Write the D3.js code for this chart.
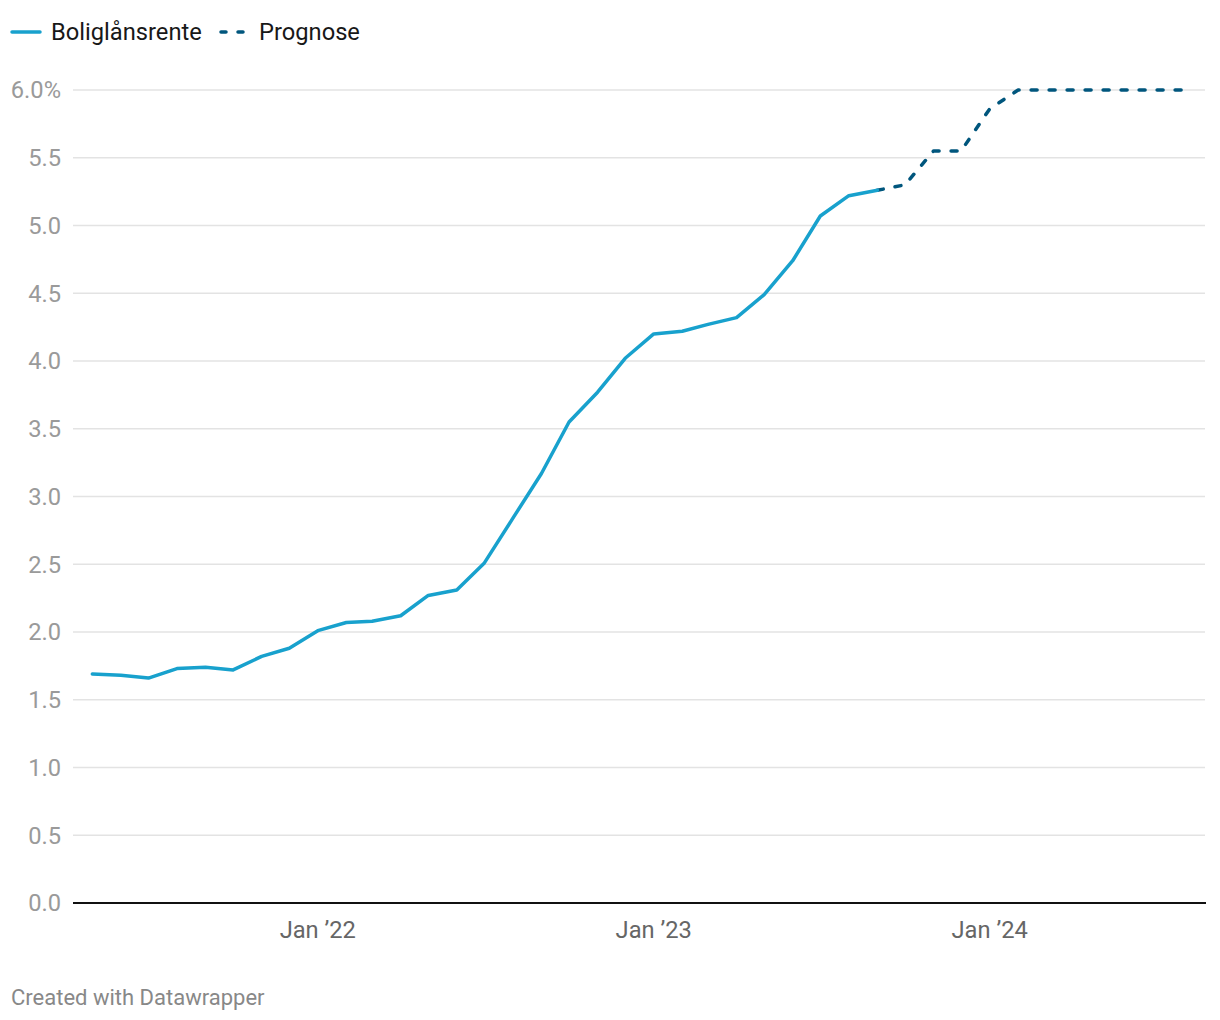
<!DOCTYPE html>
<html><head><meta charset="utf-8">
<script src="https://cdn.jsdelivr.net/npm/d3@7"></script>
<style>
body{margin:0;background:#fff;font-family:Roboto,"Noto Sans",sans-serif;}
</style></head>
<body><svg id="c" width="1220" height="1020"></svg>
<script>
const months = ["2021-05","2021-06","2021-07","2021-08","2021-09","2021-10","2021-11","2021-12",
"2022-01","2022-02","2022-03","2022-04","2022-05","2022-06","2022-07","2022-08","2022-09","2022-10","2022-11","2022-12",
"2023-01","2023-02","2023-03","2023-04","2023-05","2023-06","2023-07","2023-08","2023-09"];
const rente = [1.69,1.68,1.66,1.73,1.74,1.72,1.82,1.88,
2.01,2.07,2.08,2.12,2.27,2.31,2.51,2.84,3.17,3.55,3.77,4.02,
4.20,4.22,4.27,4.32,4.49,4.74,5.07,5.22,5.26];
const progMonths = ["2023-09","2023-10","2023-11","2023-12","2024-01","2024-02","2024-03","2024-04","2024-05","2024-06","2024-07","2024-08"];
const prognose = [5.26,5.30,5.55,5.55,5.86,6.00,6.00,6.00,6.00,6.00,6.00,6.00];
const yTicks = [0,0.5,1,1.5,2,2.5,3,3.5,4,4.5,5,5.5,6];
const xTicks = ["2022-01","2023-01","2024-01"];
const xTickLabels = ["Jan \u201922","Jan \u201923","Jan \u201924"];
const seriesNames = ["Boliglånsrente","Prognose"];

const parse = d3.timeParse("%Y-%m");
const svg = d3.select("#c");
const x = d3.scaleTime()
  .domain([new Date(2021,3,10), new Date(2024,7,22)])
  .range([73,1205]);
const y = d3.scaleLinear().domain([0,6]).range([903,90]);
const FS = 23.7;

const g = svg.append("g");
g.selectAll("line.grid").data(yTicks.filter(d=>d>0)).join("line")
  .attr("x1",73).attr("x2",1205).attr("y1",d=>y(d)).attr("y2",d=>y(d))
  .attr("stroke","#e3e3e3").attr("stroke-width",1.5);
g.selectAll("text.yl").data(yTicks).join("text")
  .attr("x",61).attr("y",d=>y(d)).attr("dy","0.35em")
  .attr("text-anchor","end").attr("font-size",FS).attr("fill","#9a9a9a")
  .text(d=> d.toFixed(1) + (d===6?"%":""));
g.append("line").attr("x1",73).attr("x2",1206).attr("y1",y(0)).attr("y2",y(0))
  .attr("stroke","#111").attr("stroke-width",2);
g.selectAll("text.xl").data(xTicks).join("text")
  .attr("x",d=>x(parse(d))).attr("y",930).attr("dy","0.35em")
  .attr("text-anchor","middle").attr("font-size",FS).attr("fill","#666")
  .text((d,i)=>xTickLabels[i]);

const line = d3.line().x(d=>x(d[0])).y(d=>y(d[1]));
const d1 = months.map((m,i)=>[parse(m),rente[i]]);
const d2 = progMonths.map((m,i)=>[parse(m),prognose[i]]);
g.append("path").attr("d",line(d2)).attr("fill","none")
  .attr("stroke","#00567d").attr("stroke-width",3.5)
  .attr("stroke-dasharray","6,12").attr("stroke-linecap","round").attr("stroke-linejoin","round");
g.append("path").attr("d",line(d1)).attr("fill","none")
  .attr("stroke","#18a1cd").attr("stroke-width",3.5)
  .attr("stroke-linejoin","round").attr("stroke-linecap","round");

const lg = svg.append("g");
lg.append("line").attr("x1",12).attr("x2",40).attr("y1",32).attr("y2",32)
  .attr("stroke","#18a1cd").attr("stroke-width",3.5).attr("stroke-linecap","round");
lg.append("text").attr("x",51).attr("y",32).attr("dy","0.35em").attr("font-size",FS).attr("fill","#181818").text(seriesNames[0]);
lg.append("line").attr("x1",221).attr("x2",245).attr("y1",32).attr("y2",32)
  .attr("stroke","#00567d").attr("stroke-width",3.5).attr("stroke-dasharray","5,12").attr("stroke-linecap","round");
lg.append("text").attr("x",259).attr("y",32).attr("dy","0.35em").attr("font-size",FS).attr("fill","#181818").text(seriesNames[1]);

svg.append("text").attr("x",11).attr("y",997).attr("dy","0.35em").attr("font-size",22).attr("fill","#888").text("Created with Datawrapper");
</script></body></html>
